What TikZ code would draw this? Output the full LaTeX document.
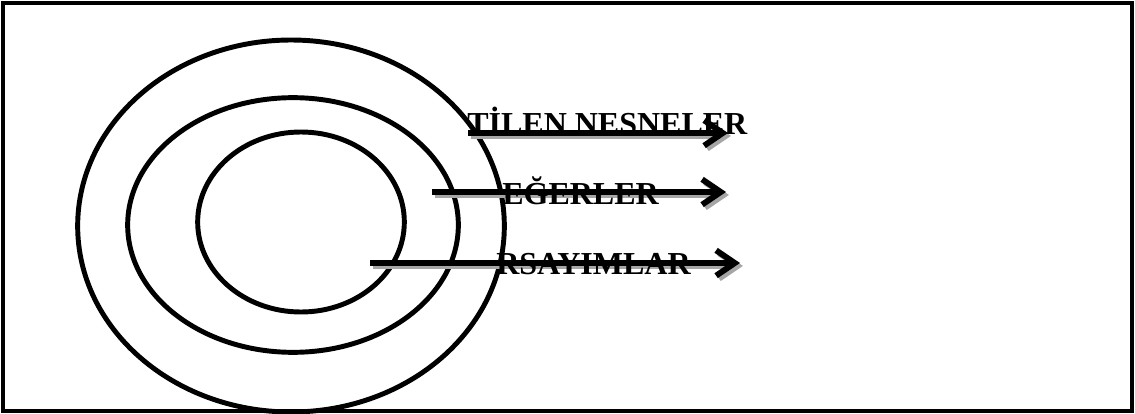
\documentclass[tikz,border=0pt]{standalone}
\usepackage{fontspec}
\setmainfont{Liberation Serif}
\usetikzlibrary{arrows.meta, shapes.geometric}
\tikzset{
	ring/.style      ={ellipse, draw=black, line width=3.7pt, inner sep=0pt},
	flowarrow/.style ={-{Straight Barb[length=14pt, width=19pt]}, line width=4.4pt},
	shadowarrow/.style={flowarrow, draw=black!35, transform canvas={xshift=2.2pt, yshift=-2.2pt}},
	lbl/.style       ={font=\fontsize{24}{26}\selectfont\bfseries, inner sep=0pt, anchor=base west},
}
\begin{document}
\begin{tikzpicture}[x=0.75pt, y=-0.75pt]
	\useasboundingbox (0,0) rectangle (1135,414);
	% frame
	\draw[line width=3.4pt] (3,3) rectangle (1132,411);
	% nested rings
	\node[ring, minimum width=320pt, minimum height=279pt] (outer) at (291,226) {};
	\node[ring, minimum width=248pt, minimum height=191pt] (middle) at (293,225) {};
	\node[ring, minimum width=155pt, minimum height=135pt] (inner) at (301,222) {};
	% arrow ends
	\coordinate (s1) at (468,133);
	\coordinate (e1) at (728,133);
	\coordinate (s2) at (432,192);
	\coordinate (e2) at (726,192);
	\coordinate (s3) at (370,263);
	\coordinate (e3) at (740,263);
	\foreach \i in {1,2,3}
		\draw[shadowarrow] (s\i) -- (e\i);
	\foreach \i in {1,2,3}
		\draw[flowarrow] (s\i) -- (e\i);
	% labels
	\node[lbl] (nesne) at (467,134) {TİLEN NESNELER};
	\node[lbl] (deger) at (502,204) {EĞERLER};
	\node[lbl] (varsayim) at (496,274) {RSAYIMLAR};
\end{tikzpicture}
\end{document}
